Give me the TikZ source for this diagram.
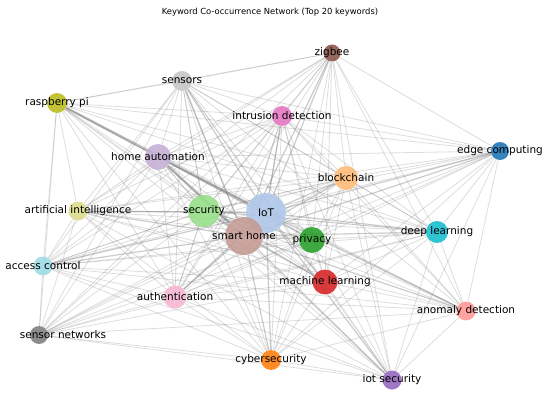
\documentclass[tikz,border=0pt]{standalone}
\usepackage{fontspec}
\setmainfont{DejaVu Sans}
\pgfdeclarelayer{bg}
\pgfsetlayers{bg,main}
\definecolor{cIoT}{HTML}{AEC7E8}
\definecolor{cSH}{HTML}{C49C94}
\definecolor{cSEC}{HTML}{98DF8A}
\definecolor{cHA}{HTML}{C5B0D5}
\definecolor{cPRI}{HTML}{2CA02C}
\definecolor{cML}{HTML}{D62728}
\definecolor{cBC}{HTML}{FFBB78}
\definecolor{cAUTH}{HTML}{F7B6D2}
\definecolor{cDL}{HTML}{17BECF}
\definecolor{cCYB}{HTML}{FF7F0E}
\definecolor{cIDS}{HTML}{E377C2}
\definecolor{cRPI}{HTML}{BCBD22}
\definecolor{cSEN}{HTML}{C7C7C7}
\definecolor{cAI}{HTML}{DBDB8D}
\definecolor{cAC}{HTML}{9EDAE5}
\definecolor{cAD}{HTML}{FF9896}
\definecolor{cIOS}{HTML}{9467BD}
\definecolor{cEC}{HTML}{1F77B4}
\definecolor{cSN}{HTML}{7F7F7F}
\definecolor{cZIG}{HTML}{8C564B}
\tikzset{
  dot/.style={circle, draw=none, fill opacity=0.9, inner sep=0pt},
  lab/.style={font=\fontsize{10.5}{12}\selectfont, text=black, inner sep=0pt},
  edge/.style={draw=gray, opacity=0.27, line width=0.8pt},
  hubedge/.style={draw=gray, opacity=0.22, line width=1.4pt},
  heavyedge/.style={draw=gray, opacity=0.42, line width=2.6pt},
  titlestyle/.style={font=\fontsize{8.4}{10}\selectfont, text=black, inner sep=0pt}
}
\begin{document}
\begin{tikzpicture}[x=1pt,y=-1pt]
\useasboundingbox (0,0) rectangle (550,396);
\node[titlestyle] (title) at (270,12) {Keyword Co-occurrence Network (Top 20 keywords)};
% nodes (circles)
\node[dot, fill=cIoT,  minimum size=40pt] (iot)  at (266,213) {};
\node[dot, fill=cSH,   minimum size=38pt] (sh)   at (244,236) {};
\node[dot, fill=cSEC,  minimum size=32pt] (sec)  at (204,211) {};
\node[dot, fill=cHA,   minimum size=26pt] (ha)   at (158,157) {};
\node[dot, fill=cPRI,  minimum size=26pt] (pri)  at (312,240) {};
\node[dot, fill=cML,   minimum size=25pt] (ml)   at (325,282) {};
\node[dot, fill=cBC,   minimum size=24pt] (bc)   at (346,178) {};
\node[dot, fill=cAUTH, minimum size=23pt] (auth) at (175,297) {};
\node[dot, fill=cDL,   minimum size=22pt] (dl)   at (437,232) {};
\node[dot, fill=cCYB,  minimum size=20pt] (cyb)  at (271,360) {};
\node[dot, fill=cIDS,  minimum size=20pt] (ids)  at (282,116) {};
\node[dot, fill=cRPI,  minimum size=20pt] (rpi)  at (57,103) {};
\node[dot, fill=cSEN,  minimum size=20pt] (sen)  at (182,81) {};
\node[dot, fill=cAI,   minimum size=19pt] (ai)   at (78,211) {};
\node[dot, fill=cAC,   minimum size=19pt] (ac)   at (43,266) {};
\node[dot, fill=cAD,   minimum size=19pt] (ad)   at (466,311) {};
\node[dot, fill=cIOS,  minimum size=19pt] (ios)  at (392,380) {};
\node[dot, fill=cEC,   minimum size=18pt] (ec)   at (500,151) {};
\node[dot, fill=cSN,   minimum size=18pt] (sn)   at (39,335) {};
\node[dot, fill=cZIG,  minimum size=17pt] (zig)  at (332,53) {};
% edges
\begin{pgfonlayer}{bg}
\foreach \a [count=\i] in {iot,sh,sec,ha,pri,ml,bc,auth,dl,cyb,ids,rpi,sen,ai,ac,ad,ios,ec,sn,zig}{
  \foreach \b [count=\j] in {iot,sh,sec,ha,pri,ml,bc,auth,dl,cyb,ids,rpi,sen,ai,ac,ad,ios,ec,sn,zig}{
    \ifnum\j>\i \draw[edge] (\a) -- (\b); \fi
  }
}
\foreach \b in {sec,ha,pri,ml,bc,auth,dl,cyb,ids,sen,ai,ac,ad,ios,ec,zig}{
  \draw[hubedge] (iot) -- (\b);
  \draw[hubedge] (sh) -- (\b);
}
\foreach \b in {ha,pri,ml,bc,auth,sen,ai,ac,dl}{
  \draw[edge] (sec) -- (\b);
}
\draw[heavyedge] (rpi) -- (iot);
\draw[heavyedge] (ha) -- (sh);
\draw[hubedge] (ids) -- (iot);
\draw[hubedge] (sen) -- (sh);
\end{pgfonlayer}
% labels
\node[lab] (iotL)  at (iot)  {IoT};
\node[lab] (shL)   at (sh)   {smart home};
\node[lab] (secL)  at (sec)  {security};
\node[lab] (haL)   at (ha)   {home automation};
\node[lab] (priL)  at (pri)  {privacy};
\node[lab] (mlL)   at (ml)   {machine learning};
\node[lab] (bcL)   at (bc)   {blockchain};
\node[lab] (authL) at (auth) {authentication};
\node[lab] (dlL)   at (dl)   {deep learning};
\node[lab] (cybL)  at (cyb)  {cybersecurity};
\node[lab] (idsL)  at (ids)  {intrusion detection};
\node[lab] (rpiL)  at (rpi)  {raspberry pi};
\node[lab] (senL)  at (sen)  {sensors};
\node[lab] (aiL)   at (ai)   {artificial intelligence};
\node[lab] (acL)   at (ac)   {access control};
\node[lab] (adL)   at (ad)   {anomaly detection};
\node[lab] (iosL)  at (ios)  {iot security};
\node[lab] (ecL)   at (ec)   {edge computing};
\node[lab] (snL)   at ([xshift=24pt]sn) {sensor networks};
\node[lab] (zigL)  at (zig)  {zigbee};
\end{tikzpicture}
\end{document}
